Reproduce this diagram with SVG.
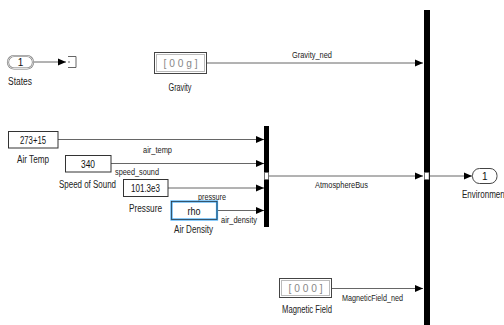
<svg xmlns="http://www.w3.org/2000/svg" width="504" height="325" viewBox="0 0 504 325">
<style>
  .lbl{font-family:"Liberation Sans",Arial,sans-serif;font-size:10px;fill:#222}
  .sig{font-family:"Liberation Sans",Arial,sans-serif;font-size:9px;fill:#222}
  .val{font-family:"Liberation Sans",Arial,sans-serif;font-size:10px;fill:#111}
  .cst{font-family:"Liberation Sans",Arial,sans-serif;font-size:11px;fill:#888}
  .blk{fill:#fff;stroke:#333;stroke-width:1}
  .line{stroke:#555;stroke-width:0.9;fill:none}
  .bus{fill:#000}
</style>
<defs>
  <marker id="arr" viewBox="0 0 8 8" refX="8" refY="4" markerWidth="8" markerHeight="8" markerUnits="userSpaceOnUse" orient="auto">
    <path d="M0,0.5 L8,4 L0,7.5 Z" fill="#000"/>
  </marker>
</defs>
<rect width="504" height="325" fill="#fff"/>

<g id="connectors">
  <path class="line" d="M33,62 H66" marker-end="url(#arr)"/>
  <path class="line" d="M207,63 H423" marker-end="url(#arr)"/>
  <path class="line" d="M58,139.5 H264" marker-end="url(#arr)"/>
  <path class="line" d="M111,163.5 H264" marker-end="url(#arr)"/>
  <path class="line" d="M168,188 H264" marker-end="url(#arr)"/>
  <path class="line" d="M217,210.5 H264" marker-end="url(#arr)"/>
  <path class="line" d="M269,176 H423" marker-end="url(#arr)"/>
  <path class="line" d="M332,288.5 H423" marker-end="url(#arr)"/>
  <path class="line" d="M430,176 H472" marker-end="url(#arr)"/>
  <text class="sig" x="292" y="58" textLength="40" lengthAdjust="spacingAndGlyphs">Gravity_ned</text>
  <text class="sig" x="143" y="153" textLength="29" lengthAdjust="spacingAndGlyphs">air_temp</text>
  <text class="sig" x="115" y="175" textLength="44" lengthAdjust="spacingAndGlyphs">speed_sound</text>
  <text class="sig" x="198" y="200" textLength="28" lengthAdjust="spacingAndGlyphs">pressure</text>
  <text class="sig" x="221" y="223" textLength="36" lengthAdjust="spacingAndGlyphs">air_density</text>
  <text class="sig" x="315" y="188" textLength="53" lengthAdjust="spacingAndGlyphs">AtmosphereBus</text>
  <text class="sig" x="342" y="301" textLength="61" lengthAdjust="spacingAndGlyphs">MagneticField_ned</text>
</g>

<g id="states">
  <rect x="8" y="56" width="25" height="12.5" rx="6" fill="#fff" stroke="#777" stroke-width="2.2"/>
  <rect x="8" y="56" width="25" height="12.5" rx="6" fill="none" stroke="#fff" stroke-width="0.8"/>
  <text class="val" x="20.5" y="65.5" text-anchor="middle" font-size="9">1</text>
  <text class="lbl" x="8" y="85" textLength="24" lengthAdjust="spacingAndGlyphs">States</text>
</g>

<g id="terminator">
  <path d="M68,56.5 H76 V67.5 H68 M68,62 H70" fill="none" stroke="#555" stroke-width="0.9"/>
</g>

<g id="gravity">
  <rect x="154.5" y="52.5" width="52" height="21" fill="#fff" stroke="#444" stroke-width="1"/>
  <rect x="156.5" y="54.5" width="48" height="17" fill="none" stroke="#bbb" stroke-width="1"/>
  <text class="cst" x="180.5" y="67" text-anchor="middle" textLength="34" lengthAdjust="spacingAndGlyphs">[ 0 0 g ]</text>
  <text class="lbl" x="180" y="91" text-anchor="middle" textLength="23" lengthAdjust="spacingAndGlyphs">Gravity</text>
</g>

<g id="air-temp">
  <rect class="blk" x="8.5" y="131.5" width="49.5" height="16.5"/>
  <text class="val" x="33" y="143.5" text-anchor="middle" textLength="26" lengthAdjust="spacingAndGlyphs">273+15</text>
  <text class="lbl" x="33" y="163" text-anchor="middle" textLength="32" lengthAdjust="spacingAndGlyphs">Air Temp</text>
</g>

<g id="speed-of-sound">
  <rect class="blk" x="65.5" y="155.5" width="45.5" height="16.5"/>
  <text class="val" x="88" y="167.5" text-anchor="middle" textLength="14" lengthAdjust="spacingAndGlyphs">340</text>
  <text class="lbl" x="59" y="187.5" textLength="57" lengthAdjust="spacingAndGlyphs">Speed of Sound</text>
</g>

<g id="pressure">
  <rect class="blk" x="123.5" y="179.5" width="44.5" height="17"/>
  <text class="val" x="145.5" y="192" text-anchor="middle" textLength="29" lengthAdjust="spacingAndGlyphs">101.3e3</text>
  <text class="lbl" x="129" y="212" textLength="33" lengthAdjust="spacingAndGlyphs">Pressure</text>
</g>

<g id="air-density">
  <rect x="171.5" y="201.5" width="45.5" height="18" fill="#fff" stroke="#3fa9f5" stroke-width="2.2"/>
  <rect x="171.5" y="201.5" width="45.5" height="18" fill="none" stroke="#333" stroke-width="0.7"/>
  <text class="val" x="194" y="214.5" text-anchor="middle" textLength="13" lengthAdjust="spacingAndGlyphs">rho</text>
  <text class="lbl" x="174" y="233" textLength="39" lengthAdjust="spacingAndGlyphs">Air Density</text>
</g>

<g id="atmosphere-bus">
  <rect class="bus" x="264" y="126" width="5" height="101"/>
  <rect x="264.5" y="172.5" width="4" height="7" fill="#fff" stroke="#666" stroke-width="0.6"/>
</g>

<g id="environment-bus">
  <rect class="bus" x="424" y="10" width="6" height="315"/>
  <rect x="424.5" y="172.5" width="4.5" height="7" fill="#fff" stroke="#666" stroke-width="0.6"/>
</g>

<g id="magnetic-field">
  <rect x="279.5" y="278.5" width="52" height="19" fill="#fff" stroke="#444" stroke-width="1"/>
  <rect x="281.5" y="280.5" width="48" height="15" fill="none" stroke="#bbb" stroke-width="1"/>
  <text class="cst" x="305.5" y="292" text-anchor="middle" textLength="34" lengthAdjust="spacingAndGlyphs">[ 0 0 0 ]</text>
  <text class="lbl" x="282" y="313" textLength="50" lengthAdjust="spacingAndGlyphs">Magnetic Field</text>
</g>

<g id="environment">
  <rect x="472.5" y="168.5" width="24.5" height="15" rx="7" fill="#fff" stroke="#444" stroke-width="1"/>
  <text class="val" x="484.7" y="179.5" text-anchor="middle" font-size="9">1</text>
  <text class="lbl" x="462" y="198" textLength="45" lengthAdjust="spacingAndGlyphs">Environment</text>
</g>
</svg>
